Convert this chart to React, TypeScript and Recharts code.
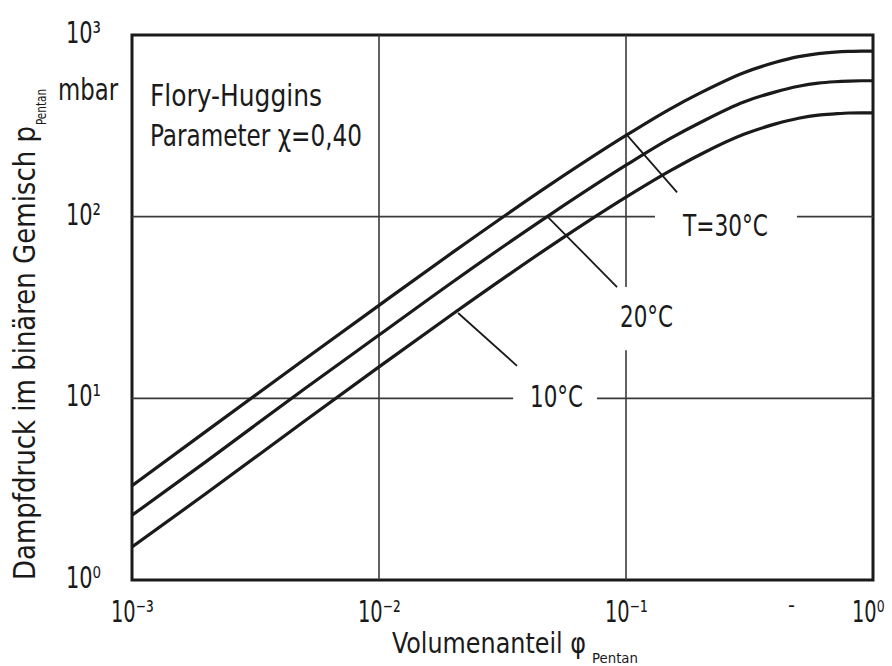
import { LineChart, Line, XAxis, YAxis, ReferenceLine, ReferenceArea } from 'recharts';

// volume fraction of pentane (x axis, log)
const PHI = [0.001, 0.002, 0.005, 0.01, 0.02, 0.05, 0.1, 0.15, 0.2, 0.3, 0.4, 0.5, 0.6, 0.7, 0.8, 0.9, 1.0];

// vapour pressure in mbar
const P_30 = [3.3, 6.6, 16.4, 32.5, 64, 152, 280, 390, 480, 620, 705, 760, 790, 805, 812, 815, 815];
const P_20 = [2.27, 4.5, 11.3, 22.3, 44, 104, 192, 268, 330, 428, 485, 522, 543, 553, 558, 560, 560];
const P_10 = [1.52, 3.0, 7.5, 14.9, 29.3, 69.5, 128, 178, 220, 284, 323, 348, 362, 368, 372, 373, 373];

const X_TICKS = [0.001, 0.01, 0.1, 1];
const Y_TICKS = [1, 10, 100, 1000];

const data = PHI.map((phi, i) => ({ phi, t30: P_30[i], t20: P_20[i], t10: P_10[i] }));

const FONT = "'Liberation Sans Narrow', 'DejaVu Sans Condensed', 'Open Sans', sans-serif";
const INK = '#1a1a1a';
const GRID = '#3a3a3a';

const fit = { lengthAdjust: 'spacingAndGlyphs' as const };
const SUP: Record<string, string> = { '-': '⁻', '0': '⁰', '1': '¹', '2': '²', '3': '³' };
const expLabel = (v: number) =>
  String(Math.round(Math.log10(v))).split('').map((c) => SUP[c]).join('');

const XTick = (props: any) => {
  const { x, y, payload } = props;
  return (
    <text transform={`translate(${x - 21},${y + 42}) scale(0.72,1)`} fontFamily={FONT} fill={INK} fontSize={30}>
      {'10' + expLabel(payload.value)}
    </text>
  );
};

const YTick = (props: any) => {
  const { x, y, payload } = props;
  const e = expLabel(payload.value);
  return (
    <text x={x - 66} y={y + 8} fontFamily={FONT} fill={INK} fontSize={30}
      textLength={24 + e.length * 11} {...fit}>
      {'10' + e}
    </text>
  );
};

const gridSegs: { x1: number; y1: number; x2: number; y2: number }[] = [
  { x1: 0.01, y1: 1, x2: 0.01, y2: 1000 },
  { x1: 0.1, y1: 1000, x2: 0.1, y2: 41 },
  { x1: 0.1, y1: 18.4, x2: 0.1, y2: 1 },
  { x1: 0.001, y1: 100, x2: 0.131, y2: 100 },
  { x1: 0.492, y1: 100, x2: 1, y2: 100 },
  { x1: 0.001, y1: 10, x2: 0.0349, y2: 10 },
  { x1: 0.0763, y1: 10, x2: 1, y2: 10 },
];

const leaders = [
  { x1: 0.101, y1: 281, x2: 0.161, y2: 136 },
  { x1: 0.0483, y1: 99.5, x2: 0.092, y2: 41 },
  { x1: 0.0209, y1: 29.5, x2: 0.0362, y2: 15.1 },
];

export default function App() {
  return (
    <div style={{ position: 'absolute', left: 0, top: 0, width: 892, height: 666, background: '#fff' }}>
      <LineChart
        width={892}
        height={666}
        data={data}
        margin={{ top: 35, right: 19, bottom: 0, left: 0 }}
      >
        {gridSegs.map((s, i) => (
          <ReferenceLine
            key={'g' + i}
            segment={[{ x: s.x1, y: s.y1 }, { x: s.x2, y: s.y2 }]}
            stroke={GRID}
            strokeWidth={1.6}
          />
        ))}
        {leaders.map((s, i) => (
          <ReferenceLine
            key={'l' + i}
            segment={[{ x: s.x1, y: s.y1 }, { x: s.x2, y: s.y2 }]}
            stroke={INK}
            strokeWidth={1.8}
          />
        ))}
        <XAxis
          dataKey='phi'
          type='number'
          scale='log'
          domain={[0.001, 1]}
          ticks={X_TICKS}
          allowDataOverflow
          height={86}
          axisLine={false}
          tickLine={false}
          tickSize={0}
          tickMargin={0}
          tick={<XTick />}
        />
        <YAxis
          type='number'
          scale='log'
          domain={[1, 1000]}
          ticks={Y_TICKS}
          allowDataOverflow
          width={132}
          axisLine={false}
          tickLine={false}
          tickSize={0}
          tickMargin={0}
          tick={<YTick />}
        />
        <Line dataKey='t30' type='monotone' stroke={INK} strokeWidth={3.2} dot={false} isAnimationActive={false} />
        <Line dataKey='t20' type='monotone' stroke={INK} strokeWidth={3.2} dot={false} isAnimationActive={false} />
        <Line dataKey='t10' type='monotone' stroke={INK} strokeWidth={3.2} dot={false} isAnimationActive={false} />
        <ReferenceArea x1={0.001} x2={1} y1={1} y2={1000} fill='none' stroke={INK} strokeWidth={3} />

        <g fontFamily={FONT} fill={INK}>
          <text x={150} y={106} fontSize={30} textLength={172} {...fit}>Flory-Huggins</text>
          <text x={150} y={146} fontSize={30} textLength={212} {...fit}>Parameter χ=0,40</text>
          <text x={683} y={236} fontSize={30} textLength={85} {...fit}>T=30°C</text>
          <text x={620} y={327} fontSize={30} textLength={53} {...fit}>20°C</text>
          <text x={530} y={407} fontSize={30} textLength={53} {...fit}>10°C</text>
          <text x={788} y={612} fontSize={22} textLength={7} {...fit}>-</text>

          <text x={392} y={653} fontSize={27.5} textLength={194} {...fit}>Volumenanteil φ</text>
          <text x={592} y={663} fontSize={14} textLength={46} {...fit}>Pentan</text>
          <text x={58} y={100} fontSize={30} textLength={60} {...fit}>mbar</text>
          <text transform='translate(35,580) rotate(-90)' fontSize={30} textLength={454} {...fit}>
            Dampfdruck im binären Gemisch p
          </text>
          <text transform='translate(46,125) rotate(-90)' fontSize={14} textLength={36} {...fit}>
            Pentan
          </text>
        </g>
      </LineChart>
    </div>
  );
}
